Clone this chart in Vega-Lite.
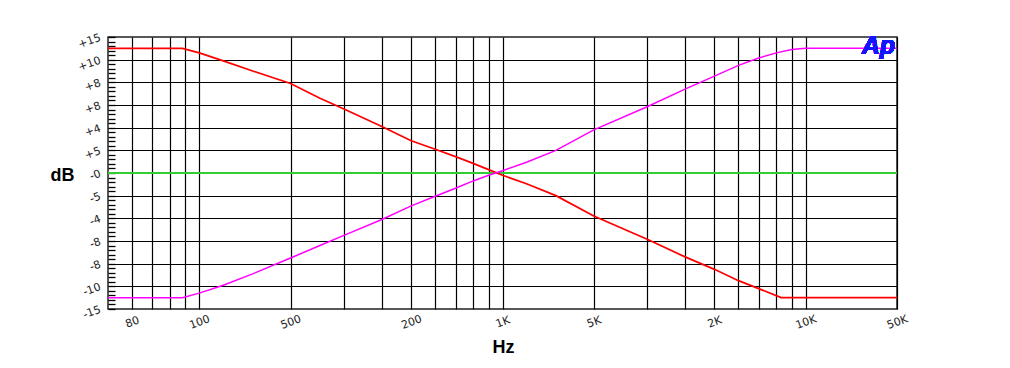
{
  "$schema": "https://vega.github.io/schema/vega-lite/v6.json",
  "autosize": "none",
  "width": 789,
  "height": 272,
  "padding": {"left": 108, "top": 37, "right": 113, "bottom": 59},
  "background": "white",
  "config": {
    "view": {"stroke": "#222", "strokeWidth": 1.5},
    "font": "Liberation Sans"
  },
  "data": {
    "values": [
      {"series": "flat", "f": 50, "db": 0},
      {"series": "flat", "f": 20000, "db": 0},
      {"series": "low", "f": 50, "db": 11.0},
      {"series": "low", "f": 88, "db": 11.0},
      {"series": "low", "f": 100, "db": 10.6},
      {"series": "low", "f": 120, "db": 9.9},
      {"series": "low", "f": 150, "db": 9.0},
      {"series": "low", "f": 200, "db": 7.9},
      {"series": "low", "f": 250, "db": 6.6},
      {"series": "low", "f": 300, "db": 5.65},
      {"series": "low", "f": 400, "db": 4.1},
      {"series": "low", "f": 500, "db": 2.85},
      {"series": "low", "f": 600, "db": 2.1},
      {"series": "low", "f": 700, "db": 1.45},
      {"series": "low", "f": 800, "db": 0.85},
      {"series": "low", "f": 900, "db": 0.3},
      {"series": "low", "f": 1000, "db": -0.2},
      {"series": "low", "f": 1200, "db": -0.95},
      {"series": "low", "f": 1500, "db": -2.0},
      {"series": "low", "f": 2000, "db": -3.8},
      {"series": "low", "f": 3000, "db": -5.85},
      {"series": "low", "f": 4000, "db": -7.4},
      {"series": "low", "f": 5000, "db": -8.5},
      {"series": "low", "f": 6000, "db": -9.5},
      {"series": "low", "f": 7000, "db": -10.2},
      {"series": "low", "f": 8300, "db": -11.0},
      {"series": "low", "f": 20000, "db": -11.0},
      {"series": "high", "f": 50, "db": -11.0},
      {"series": "high", "f": 88, "db": -11.0},
      {"series": "high", "f": 100, "db": -10.6},
      {"series": "high", "f": 120, "db": -9.9},
      {"series": "high", "f": 150, "db": -8.9},
      {"series": "high", "f": 200, "db": -7.5},
      {"series": "high", "f": 250, "db": -6.4},
      {"series": "high", "f": 300, "db": -5.5},
      {"series": "high", "f": 400, "db": -4.1},
      {"series": "high", "f": 500, "db": -2.9},
      {"series": "high", "f": 600, "db": -2.05},
      {"series": "high", "f": 700, "db": -1.35},
      {"series": "high", "f": 800, "db": -0.7},
      {"series": "high", "f": 900, "db": -0.2},
      {"series": "high", "f": 1000, "db": 0.2},
      {"series": "high", "f": 1200, "db": 0.95},
      {"series": "high", "f": 1500, "db": 2.0},
      {"series": "high", "f": 2000, "db": 3.8},
      {"series": "high", "f": 3000, "db": 5.85},
      {"series": "high", "f": 4000, "db": 7.4},
      {"series": "high", "f": 5000, "db": 8.55},
      {"series": "high", "f": 6000, "db": 9.5},
      {"series": "high", "f": 7000, "db": 10.15},
      {"series": "high", "f": 8000, "db": 10.6},
      {"series": "high", "f": 9000, "db": 10.9},
      {"series": "high", "f": 10000, "db": 11.0},
      {"series": "high", "f": 20000, "db": 11.0}
    ]
  },
  "layer": [
    {
      "mark": {"type": "line", "clip": true},
      "encoding": {
        "x": {
          "field": "f", "type": "quantitative",
          "scale": {"type": "log", "domain": [50, 20000], "nice": false},
          "axis": {
            "values": [60, 70, 80, 90, 100, 200, 300, 400, 500, 600, 700, 800, 900, 1000, 2000, 3000, 4000, 5000, 6000, 7000, 8000, 9000, 10000, 20000],
            "tickCount": 200,
            "labelExpr": "datum.value==60?'80':datum.value==100?'100':datum.value==200?'500':datum.value==500?'200':datum.value==1000?'1K':datum.value==2000?'5K':datum.value==5000?'2K':datum.value==10000?'10K':datum.value==20000?'50K':''",
            "grid": true, "gridColor": "#000", "gridWidth": 1.2, "gridOpacity": 1,
            "ticks": false, "domain": false,
            "labelAngle": -20, "labelAlign": "center", "labelBaseline": "middle",
            "labelPadding": 13, "labelFontSize": 11, "labelColor": "#222",
            "labelFont": "DejaVu Sans", "labelOverlap": false, "labelFlush": false,
            "title": "Hz", "titleFontSize": 18, "titleFontWeight": "bold",
            "titleFont": "Liberation Sans", "titleColor": "#000",
            "titleAnchor": "start", "titleAlign": "center", "titleBaseline": "middle",
            "titleX": 395, "titleY": 38
          }
        },
        "y": {
          "field": "db", "type": "quantitative",
          "scale": {"domain": [-12, 12], "nice": false, "zero": false},
          "axis": {
            "values": [-12, -11.6, -11.2, -10.8, -10.4, -10, -9.6, -9.2, -8.8, -8.4, -8, -7.6, -7.2, -6.8, -6.4, -6, -5.6, -5.2, -4.8, -4.4, -4, -3.6, -3.2, -2.8, -2.4, -2, -1.6, -1.2, -0.8, -0.4, 0, 0.4, 0.8, 1.2, 1.6, 2, 2.4, 2.8, 3.2, 3.6, 4, 4.4, 4.8, 5.2, 5.6, 6, 6.4, 6.8, 7.2, 7.6, 8, 8.4, 8.8, 9.2, 9.6, 10, 10.4, 10.8, 11.2, 11.6, 12],
            "tickCount": 200,
            "labelExpr": "abs(datum.value/2-round(datum.value/2))>0.01 ? '' : round(datum.value)==12 ? '+15' : round(datum.value)==6 ? '+8' : round(datum.value)==2 ? '+5' : round(datum.value)==0 ? '-0' : round(datum.value)==-2 ? '-5' : round(datum.value)==-6 ? '-8' : round(datum.value)==-12 ? '-15' : (datum.value>0 ? '+' : '') + round(datum.value)",
            "grid": true, "gridOpacity": 1, "gridWidth": 1.2,
            "gridColor": {"condition": {"test": "abs(datum.value/2-round(datum.value/2))>0.01 || abs(datum.value)>11.9", "value": "transparent"}, "value": "#000"},
            "ticks": true, "tickSize": -7, "tickColor": "#000", "tickWidth": 1.3, "tickOpacity": 1,
            "domain": false,
            "labelAngle": -20, "labelAlign": "right", "labelBaseline": "middle",
            "labelPadding": 15, "labelFontSize": 11, "labelColor": "#222",
            "labelFont": "DejaVu Sans", "labelOverlap": false, "labelFlush": false,
            "title": "dB", "titleAngle": 0, "titleFontSize": 18, "titleFontWeight": "bold",
            "titleFont": "Liberation Sans", "titleColor": "#000",
            "titleAlign": "center", "titleBaseline": "middle",
            "titleX": -46, "titleY": 138
          }
        },
        "color": {
          "field": "series", "type": "nominal",
          "scale": {"domain": ["flat", "low", "high"], "range": ["#33cc33", "#ff0000", "#ff00ff"]},
          "legend": null
        },
        "strokeWidth": {
          "field": "series", "type": "nominal",
          "scale": {"domain": ["flat", "low", "high"], "range": [2, 1.5, 1.5]},
          "legend": null
        },
        "order": {"field": "f", "type": "quantitative"}
      }
    },
    {
      "mark": {"type": "text", "text": "Ap", "align": "right", "baseline": "top", "dx": -2, "dy": -3,
               "fontSize": 25, "fontWeight": "bold", "fontStyle": "italic", "font": "Liberation Sans", "color": "#1414ff"},
      "encoding": {
        "x": {"datum": 20000, "type": "quantitative"},
        "y": {"datum": 12, "type": "quantitative"}
      }
    }
  ]
}
